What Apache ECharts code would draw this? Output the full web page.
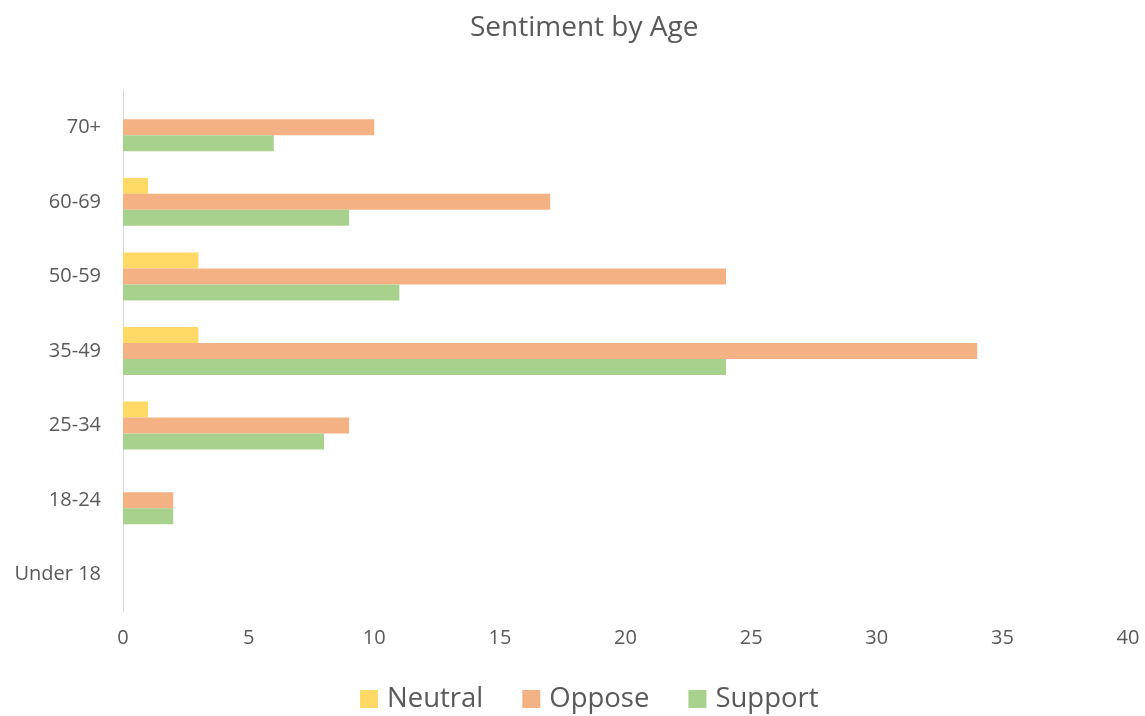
<!DOCTYPE html>
<html>
<head>
<meta charset="utf-8">
<script src="https://cdn.jsdelivr.net/npm/echarts@6/dist/echarts.min.js"></script>
<style>
  html, body { margin: 0; padding: 0; background: #fff; }
  #main { width: 1145px; height: 716px; }
</style>
</head>
<body>
<div id="main"></div>
<script>
var ageGroups = ['Under 18', '18-24', '25-34', '35-49', '50-59', '60-69', '70+'];
var neutral = [0, 0, 1, 3, 3, 1, 0];
var oppose  = [0, 2, 9, 34, 24, 17, 10];
var support = [0, 2, 8, 24, 11, 9, 6];

var textColor = '#595959';
var font = 'Open Sans';

var chart = echarts.init(document.getElementById('main'));

chart.setOption({
    title: {
        text: 'Sentiment by Age',
        left: 465,
        top: 9,
        textStyle: { color: textColor, fontSize: 28, fontWeight: 'normal', fontFamily: font }
    },
    legend: {
        data: ['Neutral', 'Oppose', 'Support'],
        top: 680,
        left: 355,
        icon: 'rect',
        itemWidth: 18,
        itemHeight: 18,
        itemGap: 39,
        textStyle: { color: textColor, fontSize: 27.5, fontFamily: font, padding: [0, 0, 0, 4] }
    },
    grid: { left: 123, right: 17, top: 90, bottom: 104 },
    xAxis: {
        type: 'value',
        min: 0,
        max: 40,
        interval: 5,
        splitLine: { show: false },
        axisLine: { show: false },
        axisTick: { show: false },
        axisLabel: { color: textColor, fontSize: 20, fontFamily: font, margin: 16 }
    },
    yAxis: {
        type: 'category',
        data: ageGroups,
        axisLine: { show: true, lineStyle: { color: '#d9d9d9', width: 1 } },
        axisTick: { show: false },
        axisLabel: { color: textColor, fontSize: 20, fontFamily: font, margin: 22 }
    },
    series: [
        { name: 'Neutral', type: 'bar', data: neutral, barWidth: 16, barGap: '0%',
          itemStyle: { color: '#FFD966' } },
        { name: 'Oppose', type: 'bar', data: oppose, barWidth: 16, barGap: '0%',
          itemStyle: { color: '#F4B183' } },
        { name: 'Support', type: 'bar', data: support, barWidth: 16, barGap: '0%',
          itemStyle: { color: '#A9D18E' } }
    ]
});

window.addEventListener('resize', function () {
    chart.resize();
});
</script>
</body>
</html>
